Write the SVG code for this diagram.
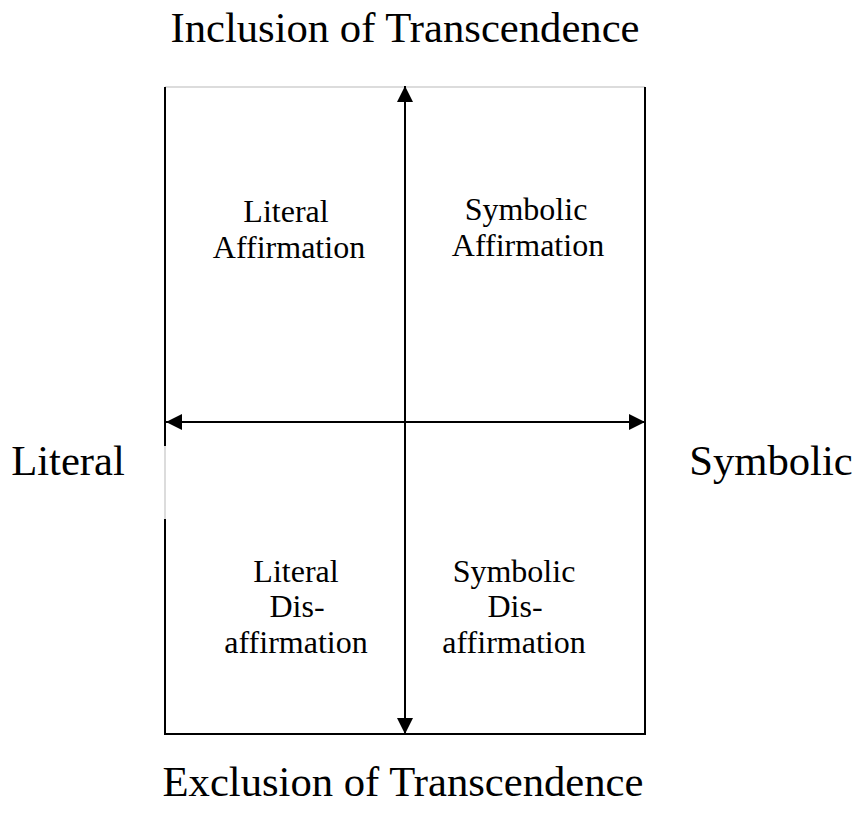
<svg xmlns="http://www.w3.org/2000/svg" width="861" height="814" viewBox="0 0 861 814">
<style>
.t{font-family:"Liberation Serif","Times New Roman",serif;fill:#000;text-anchor:middle}
.q{font-size:32px}
.a{font-size:42.67px}
.frame{stroke:#000;stroke-width:2;fill:none}
.faint{stroke:#d0d0d0;stroke-width:1.5;fill:none}
.axis{stroke:#000;stroke-width:2;fill:none}
</style>
<defs>
<marker id="ah" markerUnits="userSpaceOnUse" markerWidth="17" markerHeight="17" refX="16" refY="8" orient="auto-start-reverse" viewBox="0 0 17 16">
<path d="M0,0 L16,8 L0,16 z" fill="#000"/>
</marker>
</defs>
<rect width="861" height="814" fill="#fff"/>
<g id="frame">
<line class="faint" x1="165" y1="87" x2="645" y2="87"/>
<line class="faint" x1="165" y1="446" x2="165" y2="519"/>
<polyline class="frame" points="165,87 165,446"/>
<polyline class="frame" points="165,519 165,734 645,734 645,87"/>
</g>
<g id="connectors">
<line class="axis" x1="405" y1="734" x2="405" y2="86" marker-start="url(#ah)" marker-end="url(#ah)"/>
<line class="axis" x1="166" y1="422" x2="645" y2="422" marker-start="url(#ah)" marker-end="url(#ah)"/>
</g>
<g id="top-label"><text class="t a" x="405" y="42">Inclusion of Transcendence</text></g>
<g id="bottom-label"><text class="t a" x="403" y="796">Exclusion of Transcendence</text></g>
<g id="left-label"><text class="t a" x="68" y="475">Literal</text></g>
<g id="right-label"><text class="t a" x="771" y="475">Symbolic</text></g>
<g id="literal-affirmation"><text class="t q" x="286" y="222">Literal</text><text class="t q" x="289" y="258">Affirmation</text></g>
<g id="symbolic-affirmation"><text class="t q" x="526" y="220">Symbolic</text><text class="t q" x="528" y="256">Affirmation</text></g>
<g id="literal-disaffirmation"><text class="t q" x="296" y="582">Literal</text><text class="t q" x="297" y="617">Dis-</text><text class="t q" x="296" y="653">affirmation</text></g>
<g id="symbolic-disaffirmation"><text class="t q" x="514" y="582">Symbolic</text><text class="t q" x="515" y="617">Dis-</text><text class="t q" x="514" y="653">affirmation</text></g>
</svg>
